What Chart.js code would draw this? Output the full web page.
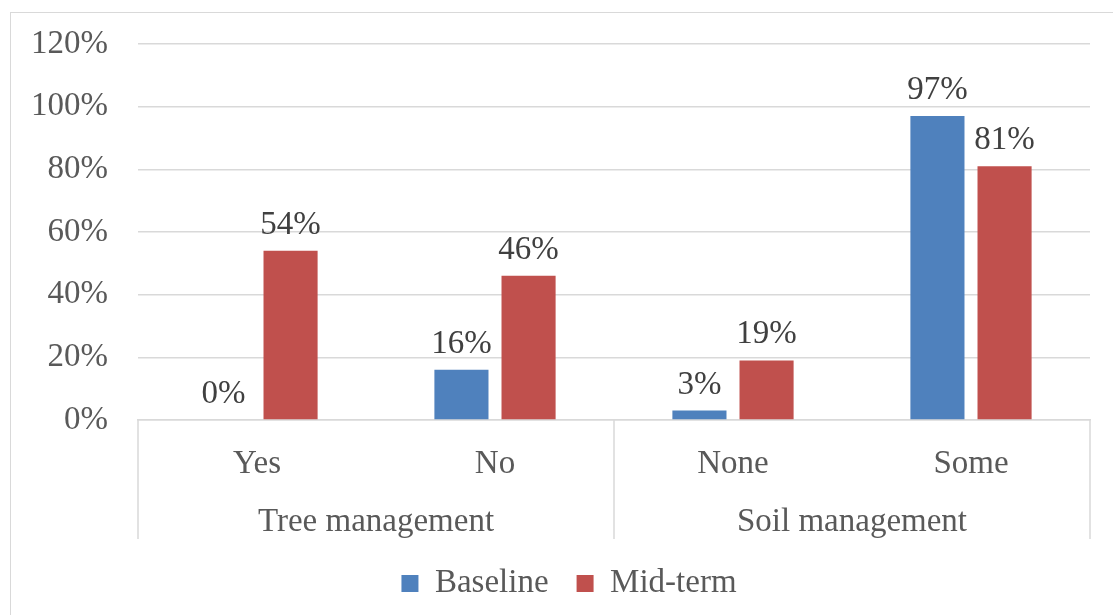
<!DOCTYPE html>
<html>
<head>
<meta charset="utf-8">
<script src="https://cdn.jsdelivr.net/npm/chart.js@4/dist/chart.umd.min.js"></script>
<style>
  html, body { margin: 0; padding: 0; background: #fff; overflow: hidden; }
  #frame { position: absolute; left: 10px; top: 12px; width: 1120px; height: 620px; border: 1.5px solid #D9D9D9; box-sizing: border-box; }
  #wrap { position: absolute; left: 0; top: 0; width: 1113px; height: 615px; }
</style>
</head>
<body>
<div id="frame"></div>
<div id="wrap"><canvas id="c" width="1113" height="615"></canvas></div>
<script>
const categories = ['Yes', 'No', 'None', 'Some'];
const groups = ['Tree management', 'Soil management'];
const groupSizes = [2, 2];
const baseline = [0, 16, 3, 97];
const midterm = [54, 46, 19, 81];
const seriesNames = ['Baseline', 'Mid-term'];
const yTicks = [0, 20, 40, 60, 80, 100, 120];

const FONT = "'Liberation Serif', 'Times New Roman', serif";
const AXIS_COLOR = '#595959';
const LINE_COLOR = '#D9D9D9';

const dataLabels = {
  id: 'dataLabels',
  afterDatasetsDraw(chart) {
    const ctx = chart.ctx;
    ctx.save();
    ctx.font = '33px ' + FONT;
    ctx.fillStyle = '#404040';
    ctx.textAlign = 'center';
    ctx.textBaseline = 'alphabetic';
    chart.data.datasets.forEach((ds, di) => {
      const meta = chart.getDatasetMeta(di);
      meta.data.forEach((el, i) => {
        ctx.fillText(ds.data[i] + '%', el.x, el.y - 17);
      });
    });
    ctx.restore();
  }
};

const groupAxis = {
  id: 'groupAxis',
  afterDraw(chart) {
    const ctx = chart.ctx;
    const x = chart.scales.x;
    const top = x.top;
    const bottom = x.bottom;
    const half = (x.getPixelForValue(1) - x.getPixelForValue(0)) / 2;
    ctx.save();
    ctx.strokeStyle = LINE_COLOR;
    ctx.lineWidth = 1.5;
    let idx = 0;
    const bounds = [x.getPixelForValue(0) - half];
    groupSizes.forEach((n) => {
      idx += n;
      bounds.push(x.getPixelForValue(idx - 1) + half);
    });
    bounds.forEach((bx) => {
      ctx.beginPath();
      ctx.moveTo(bx, top);
      ctx.lineTo(bx, bottom);
      ctx.stroke();
    });
    ctx.font = '33px ' + FONT;
    ctx.fillStyle = AXIS_COLOR;
    ctx.textAlign = 'center';
    ctx.textBaseline = 'middle';
    groups.forEach((g, gi) => {
      const cx = (bounds[gi] + bounds[gi + 1]) / 2;
      ctx.fillText(g, cx, top + 102);
    });
    ctx.restore();
  }
};

new Chart(document.getElementById('c'), {
  type: 'bar',
  data: {
    labels: categories,
    datasets: [
      { label: seriesNames[0], data: baseline, backgroundColor: '#4F81BD' },
      { label: seriesNames[1], data: midterm, backgroundColor: '#C0504D' }
    ]
  },
  options: {
    responsive: false,
    animation: false,
    devicePixelRatio: 1,
    categoryPercentage: 0.564,
    barPercentage: 0.806,
    layout: { padding: { left: 25, right: 0, top: 44, bottom: 5 } },
    plugins: {
      tooltip: { enabled: false },
      legend: {
        position: 'bottom',
        labels: {
          boxWidth: 17,
          boxHeight: 17,
          padding: 28,
          color: AXIS_COLOR,
          font: { family: FONT, size: 33 }
        }
      }
    },
    scales: {
      x: {
        grid: { display: false },
        border: { display: true, color: LINE_COLOR, width: 1.5 },
        ticks: { color: AXIS_COLOR, font: { family: FONT, size: 33 }, padding: 17, maxRotation: 0 },
        afterFit(s) { s.height = 119; }
      },
      y: {
        min: 0,
        max: 120,
        afterBuildTicks(s) { s.ticks = yTicks.map(v => ({ value: v })); },
        grid: { color: LINE_COLOR, lineWidth: 1.5, drawTicks: false },
        border: { display: false },
        ticks: {
          color: AXIS_COLOR,
          font: { family: FONT, size: 33, lineHeight: 0.8 },
          padding: 30,
          callback: v => v + '%'
        },
        afterFit(s) { s.width = 113; }
      },
      yRight: {
        position: 'right',
        display: true,
        grid: { display: false, drawTicks: false },
        border: { display: false },
        ticks: { display: false },
        afterFit(s) { s.width = 23; }
      }
    }
  },
  plugins: [dataLabels, groupAxis]
});
</script>
</body>
</html>
